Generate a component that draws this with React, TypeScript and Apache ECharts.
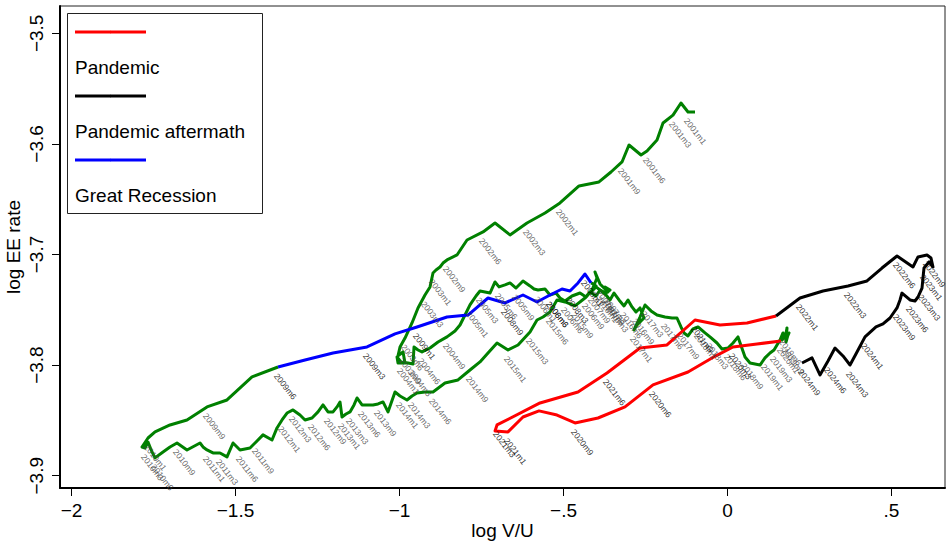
import React, { useEffect, useRef } from "react";
import * as echarts from "echarts";

// ---- Data (log V/U = x, log EE rate = y), monthly ----
// Green, 2000m12 .. 2007m12
const green1Start = [2000, 12];
const green1X = [
  -0.0991,
  -0.1204, -0.1418, -0.1662, -0.1966, -0.2149, -0.2454, -0.2637, -0.3003, -0.3216, -0.3552, -0.3918, -0.4527,
  -0.5107, -0.5564, -0.6113, -0.6631, -0.7088, -0.7454, -0.7942, -0.8247, -0.8552, -0.8674, -0.8765, -0.8887,
  -0.8979, -0.907, -0.9223, -0.9436, -0.9619, -0.9832, -0.9985, -1.0046, -0.9893, -0.9832, -1.0046, -1.0076,
  -0.9954, -0.9741, -0.9588, -0.9558, -0.9436, -0.9314, -0.907, -0.8826, -0.8552, -0.8308, -0.8155, -0.8003,
  -0.7851, -0.7668, -0.7546, -0.7241, -0.7088, -0.6966, -0.6784, -0.6631, -0.6448, -0.6235, -0.6021, -0.5899,
  -0.5777, -0.5564, -0.5412, -0.5229, -0.5107, -0.4954, -0.4741, -0.4497, -0.4314, -0.4131, -0.3979, -0.404,
  -0.3887, -0.3765, -0.3643, -0.3735, -0.3582, -0.3704, -0.3887, -0.4009, -0.4131, -0.4009, -0.4101, -0.4162,
];
const green1Y = [
  -3.5711,
  -3.5711, -3.563, -3.5739, -3.5811, -3.5965, -3.6064, -3.61, -3.601, -3.6163, -3.6254, -3.6344, -3.638,
  -3.6534, -3.6625, -3.6715, -3.6823, -3.6715, -3.6796, -3.6869, -3.7004, -3.7049, -3.7077, -3.7113, -3.714,
  -3.7167, -3.7293, -3.7366, -3.7483, -3.7619, -3.7755, -3.7836, -3.7917, -3.7881, -3.7981, -3.7981, -3.7926,
  -3.7971, -3.7981, -3.799, -3.7836, -3.7863, -3.7881, -3.7845, -3.7791, -3.7745, -3.7691, -3.7637, -3.7547,
  -3.7456, -3.7375, -3.733, -3.7348, -3.7248, -3.7293, -3.7275, -3.7257, -3.7303, -3.7239, -3.7284, -3.7312,
  -3.7321, -3.7312, -3.7366, -3.7348, -3.7393, -3.742, -3.7375, -3.7348, -3.7384, -3.7321, -3.7212, -3.7158,
  -3.7266, -3.7303, -3.7339, -3.7293, -3.7321, -3.7348, -3.7321, -3.7293, -3.733, -3.7284, -3.7266, -3.7257,
];

// Great Recession, 2007m12 .. 2009m6
const blueStart = [2007, 12];
const blueX = [
  -0.4162,
  -0.4345, -0.4558, -0.4802, -0.5046, -0.5229, -0.5412, -0.5808, -0.6235, -0.6784, -0.7302, -0.7912, -0.8552,
  -0.9466, -1.0137, -1.0991, -1.2027, -1.2881, -1.3704,
];
const blueY = [
  -3.7257,
  -3.7176, -3.7257, -3.733, -3.7312, -3.7339, -3.7366, -3.7429, -3.7366, -3.7438, -3.7393, -3.7547, -3.7565,
  -3.7655, -3.7718, -3.7836, -3.789, -3.7953, -3.8017,
];

// Green, 2009m6 .. 2020m1
const green2Start = [2009, 6];
const green2X = [
  -1.3704, -1.4497, -1.5259, -1.5869, -1.6479, -1.6997, -1.7454,
  -1.7668, -1.7851, -1.7759, -1.7668, -1.7546, -1.7454, -1.721, -1.6997, -1.6784, -1.6479, -1.6082, -1.5991,
  -1.5869, -1.5686, -1.5473, -1.5259, -1.5076, -1.4863, -1.471, -1.4558, -1.4375, -1.4162, -1.3887, -1.3735,
  -1.3582, -1.343, -1.3247, -1.3034, -1.2881, -1.2668, -1.2485, -1.2332, -1.218, -1.2027, -1.1905, -1.1814,
  -1.1753, -1.1631, -1.1509, -1.1387, -1.1296, -1.1143, -1.0991, -1.0808, -1.0655, -1.0503, -1.0351, -1.0137,
  -0.9985, -0.9771, -0.9619, -0.9466, -0.9223, -0.8979, -0.8613, -0.8216, -0.7851, -0.7546, -0.7302, -0.7027,
  -0.6692, -0.6387, -0.6021, -0.5808, -0.5625, -0.5412, -0.5198, -0.4954, -0.4649, -0.4345, -0.4192, -0.4009,
  -0.3887, -0.3704, -0.3582, -0.346, -0.3308, -0.3155, -0.3034, -0.2912, -0.279, -0.2668, -0.2546, -0.2759,
  -0.2851, -0.2668, -0.2515, -0.2332, -0.2149, -0.1905, -0.1692, -0.154, -0.1418, -0.1326, -0.1204, -0.1052,
  -0.0899, -0.0686, -0.0534, -0.032, -0.0168, 0.0015, 0.0168, 0.032, 0.0534, 0.0686, 0.0838, 0.0991,
  0.1143, 0.1296, 0.1418, 0.1509, 0.1601, 0.1692, 0.1753, 0.1814, 0.1784, 0.1845, 0.1784, 0.1875,
  0.1631,
];
const green2Y = [
  -3.8017, -3.8107, -3.8315, -3.8378, -3.8496, -3.8541, -3.8604,
  -3.8659, -3.874, -3.8749, -3.8695, -3.8785, -3.8839, -3.8785, -3.874, -3.8704, -3.8767, -3.8704, -3.874,
  -3.8767, -3.8794, -3.8794, -3.883, -3.8704, -3.8767, -3.8758, -3.8749, -3.8695, -3.8631, -3.8677, -3.8568,
  -3.8496, -3.8433, -3.8405, -3.8451, -3.8496, -3.8478, -3.8423, -3.836, -3.8423, -3.8423, -3.8378, -3.8333,
  -3.8469, -3.8442, -3.8423, -3.836, -3.8297, -3.836, -3.836, -3.836, -3.8351, -3.8333, -3.8423, -3.8243,
  -3.8279, -3.8315, -3.8279, -3.8252, -3.8243, -3.8243, -3.8161, -3.8134, -3.8044, -3.7971, -3.789, -3.78,
  -3.7863, -3.7818, -3.77, -3.7592, -3.7565, -3.752, -3.7411, -3.7429, -3.7465, -3.7393, -3.7339, -3.7375,
  -3.7321, -3.7366, -3.7411, -3.7348, -3.7411, -3.7465, -3.7411, -3.7474, -3.752, -3.7483, -3.7574, -3.7637,
  -3.7682, -3.7565, -3.7456, -3.751, -3.7547, -3.7565, -3.7574, -3.7574, -3.7655, -3.7709, -3.7736, -3.7673,
  -3.7655, -3.7709, -3.7745, -3.78, -3.7854, -3.7845, -3.78, -3.7745, -3.7926, -3.7981, -3.799, -3.7999,
  -3.7935, -3.789, -3.7863, -3.7818, -3.7773, -3.7709, -3.7755, -3.7664, -3.7791, -3.7727, -3.7773, -3.7709,
  -3.7782,
];

// Pandemic, 2020m1 .. 2021m12
const redStart = [2020, 1];
const redX = [
  0.1631, 0.0899, 0.0168, -0.0473, -0.1204, -0.2271, -0.3125, -0.3948, -0.4649, -0.5198, -0.5747, -0.6235,
  -0.6692, -0.7088, -0.7027, -0.5716, -0.4558, -0.3674, -0.2668, -0.1845, -0.0991, -0.0229, 0.0595, 0.1479,
];
const redY = [
  -3.7782, -3.7809, -3.7836, -3.7935, -3.8062, -3.8179, -3.8378, -3.8478, -3.8523, -3.8451, -3.8414, -3.8469,
  -3.8604, -3.8595, -3.8541, -3.8342, -3.8243, -3.8071, -3.7845, -3.7818, -3.7592, -3.7637, -3.7619, -3.7556,
];

// Pandemic aftermath, 2021m12 .. 2024m9
const blackStart = [2021, 12];
const blackX = [
  0.1479,
  0.221, 0.2912, 0.3674, 0.4253, 0.471, 0.5168, 0.5655, 0.5808, 0.6082, 0.6204, 0.6265, 0.6143,
  0.5991, 0.596, 0.593, 0.5808, 0.5716, 0.5564, 0.532, 0.5259, 0.5168, 0.4954, 0.4741, 0.4527,
  0.4192, 0.3948, 0.3735, 0.3521, 0.3277, 0.3064, 0.282, 0.2576, 0.2271,
];
const blackY = [
  -3.7556,
  -3.7393, -3.733, -3.7284, -3.7239, -3.7122, -3.7013, -3.7113, -3.7022, -3.7004, -3.7031, -3.7113, -3.7067,
  -3.7122, -3.7212, -3.7303, -3.7384, -3.742, -3.7411, -3.7348, -3.7411, -3.7483, -3.7574, -3.7628, -3.7655,
  -3.7745, -3.7881, -3.7999, -3.7917, -3.7845, -3.7962, -3.8089, -3.7935, -3.7981,
];

const labeledMonths = [1, 3, 6, 9];
const xTicks = [-2, -1.5, -1, -0.5, 0, 0.5];
const yTicks = [-3.9, -3.8, -3.7, -3.6, -3.5];
const legendItems = [
  { name: "Pandemic", color: "#ff0000" },
  { name: "Pandemic aftermath", color: "#000000" },
  { name: "Great Recession", color: "#0000ff" },
];

const FONT = "'Liberation Sans', Arial, Helvetica, sans-serif";

function pts(xs: number[], ys: number[]) {
  return xs.map((x, i) => [x, ys[i]]);
}

function labelPts(xs: number[], ys: number[], start: number[], skipFirst: boolean) {
  const out: any[] = [];
  xs.forEach((x, i) => {
    const t = start[1] - 1 + i;
    const yr = start[0] + Math.floor(t / 12);
    const mo = (t % 12) + 1;
    if (skipFirst && i === 0) return;
    if (labeledMonths.includes(mo)) out.push({ name: `${yr}m${mo}`, value: [x, ys[i]] });
  });
  return out;
}

function fmtNum(v: number, digits: number) {
  if (Math.abs(v) < 1e-9) return "0";
  let s = Math.abs(v).toFixed(digits);
  s = s.replace(/\.?0+$/, "");
  if (s.startsWith("0.")) s = s.slice(1);
  return (v < 0 ? "\u2212" : "") + s;
}

export default function App() {
  const ref = useRef<HTMLDivElement>(null);
  useEffect(() => {
    if (!ref.current) return;
    const chart = echarts.init(ref.current, null, { renderer: "svg" });

    const lineSeries = (data: number[][], color: string, z: number) => ({
      type: "line",
      data,
      showSymbol: false,
      symbol: "none",
      silent: true,
      z,
      lineStyle: { color, width: 3, join: "round" },
      animation: false,
    });
    const labelSeries = (data: any[], color: string, z: number) => ({
      type: "scatter",
      data,
      symbolSize: 1,
      silent: true,
      z,
      itemStyle: { color: "rgba(0,0,0,0)" },
      label: {
        show: true,
        formatter: "{b}",
        position: [2, 5],
        rotate: -52,
        align: "left",
        verticalAlign: "top",
        fontSize: 8.5,
        fontFamily: FONT,
        color,
      },
      animation: false,
    });

    const grayLabels = [
      ...labelPts(green1X, green1Y, green1Start, false),
      ...labelPts(green2X, green2Y, green2Start, true),
    ];
    const blackLabels = [
      ...labelPts(blueX, blueY, blueStart, false),
      ...labelPts(redX, redY, redStart, true),
      ...labelPts(blackX, blackY, blackStart, false),
    ];

    const legendGraphics: any[] = [
      {
        type: "rect",
        shape: { x: 67.5, y: 13.5, width: 195, height: 200 },
        style: { fill: "#fff", stroke: "#222", lineWidth: 1 },
        z: 100,
      },
    ];
    legendItems.forEach((it, i) => {
      const ly = 32 + i * 64;
      legendGraphics.push({
        type: "line",
        shape: { x1: 75, y1: ly, x2: 146, y2: ly },
        style: { stroke: it.color, lineWidth: 3 },
        z: 101,
      });
      legendGraphics.push({
        type: "circle",
        shape: { cx: 110.5, cy: ly, r: 1.2 },
        style: { fill: it.color },
        z: 101,
      });
      legendGraphics.push({
        type: "text",
        x: 75,
        y: ly + 35,
        style: {
          text: it.name,
          fontSize: 19,
          fontFamily: FONT,
          fill: "#000",
          verticalAlign: "middle",
          align: "left",
        },
        z: 101,
      });
    });

    chart.setOption({
      animation: false,
      backgroundColor: "#fff",
      grid: {
        left: 60,
        right: 6,
        top: 6,
        bottom: 56,
        outerBoundsMode: "none",
        containLabel: false,
        show: true,
        borderColor: "#222",
        borderWidth: 1,
        backgroundColor: "#fff",
      },
      xAxis: {
        type: "value",
        min: -2.0351,
        max: 0.6631,
        name: "log V/U",
        nameLocation: "middle",
        nameGap: 33,
        nameMoveOverlap: false,
        nameTextStyle: { fontSize: 19, fontFamily: FONT, color: "#000" },
        axisLine: { show: true, onZero: false, lineStyle: { color: "#000", width: 2 } },
        axisTick: { show: true, length: 8, customValues: xTicks, lineStyle: { color: "#000", width: 1 } },
        axisLabel: {
          customValues: xTicks,
          formatter: (v: number) => fmtNum(v, 1),
          fontSize: 19,
          fontFamily: FONT,
          color: "#000",
          margin: 13,
        },
        splitLine: { show: false },
      },
      yAxis: {
        type: "value",
        min: -3.9111,
        max: -3.4753,
        name: "log EE rate",
        nameLocation: "middle",
        nameGap: 37,
        nameMoveOverlap: false,
        nameRotate: 90,
        nameTextStyle: { fontSize: 19, fontFamily: FONT, color: "#000" },
        axisLine: { show: true, onZero: false, lineStyle: { color: "#000", width: 2 } },
        axisTick: { show: true, length: 8, customValues: yTicks, lineStyle: { color: "#000", width: 1 } },
        axisLabel: {
          customValues: yTicks,
          formatter: (v: number) => fmtNum(v, 1),
          rotate: 90,
          fontSize: 19,
          fontFamily: FONT,
          color: "#000",
          margin: 14,
        },
        splitLine: { show: false },
      },
      graphic: legendGraphics,
      series: [
        lineSeries(pts(green1X, green1Y), "#008000", 2),
        lineSeries(pts(green2X, green2Y), "#008000", 2),
        lineSeries(pts(blueX, blueY), "#0000ff", 3),
        lineSeries(pts(redX, redY), "#ff0000", 4),
        lineSeries(pts(blackX, blackY), "#000000", 5),
        labelSeries(grayLabels, "#444444", 6),
        labelSeries(blackLabels, "#000000", 7),
      ],
    });
    return () => chart.dispose();
  }, []);
  return (
    <div
      ref={ref}
      style={{ position: "fixed", left: 0, top: 0, width: 951, height: 544, background: "#fff" }}
    />
  );
}
